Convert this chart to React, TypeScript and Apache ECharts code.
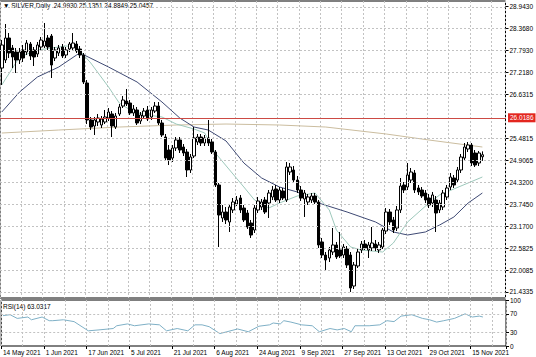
import React, { useEffect, useRef } from "react";
import * as echarts from "echarts";

const BAR_SLOTS = 142;
const DATE_TICKS = [
  "14 May 2021", "1 Jun 2021", "17 Jun 2021", "5 Jul 2021", "21 Jul 2021", "6 Aug 2021",
  "24 Aug 2021", "9 Sep 2021", "27 Sep 2021", "13 Oct 2021", "29 Oct 2021", "15 Nov 2021",
];
const PRICE_TICKS = [28.943, 28.368, 27.793, 27.218, 26.6315, 25.4815, 24.9065, 24.32, 23.745, 23.17, 22.5825, 22.0085, 21.4335];
const RSI_TICKS = [0, 30, 70, 100];
const RSI_LEVELS = [30, 70];
const RED_LEVEL = 26.0186;
const LAST_PRICE = 25.0457;
const HEADER = "\u25BC SILVER,Daily  24.9930 25.1351 24.8849 25.0457";
const RSI_TITLE = "RSI(14) 63.0317";

// [open, close, low, high]
const OHLC = [
  [27.329, 27.935, 26.882, 28.066], [27.540, 28.119, 27.461, 28.487], [28.119, 27.724, 27.592, 28.250],
  [27.856, 27.619, 27.329, 27.935], [27.750, 27.540, 27.198, 27.856], [27.540, 27.750, 27.435, 27.856],
  [27.803, 27.592, 27.487, 27.935], [27.750, 27.987, 27.671, 28.066], [27.961, 27.645, 27.540, 28.014],
  [27.803, 27.619, 27.382, 27.882], [27.698, 27.935, 27.619, 28.014], [27.882, 28.066, 27.803, 28.145],
  [27.908, 28.040, 27.856, 28.514], [28.119, 27.882, 27.803, 28.198], [28.171, 27.408, 27.066, 28.224],
  [27.592, 27.803, 27.513, 27.882], [27.724, 27.856, 27.645, 27.935], [27.882, 27.645, 27.592, 27.961],
  [27.671, 27.803, 27.592, 27.882], [27.829, 27.961, 27.750, 28.014], [27.856, 27.987, 27.803, 28.250],
  [27.961, 27.777, 27.724, 28.040], [27.829, 27.671, 27.592, 27.908], [27.671, 26.961, 26.908, 27.724],
  [26.934, 25.961, 25.855, 27.013], [25.961, 25.776, 25.697, 26.040], [25.803, 25.961, 25.566, 26.040],
  [25.908, 26.013, 25.803, 26.119], [25.829, 25.987, 25.750, 26.066], [25.908, 26.040, 25.855, 26.224],
  [26.013, 26.171, 25.934, 26.276], [26.119, 25.803, 25.513, 26.197], [25.776, 26.066, 25.724, 26.145],
  [26.119, 26.303, 26.066, 26.382], [26.329, 26.487, 26.276, 26.592], [26.461, 26.382, 26.329, 26.777],
  [26.408, 26.145, 26.092, 26.487], [26.145, 26.250, 26.066, 26.355], [26.224, 25.882, 25.829, 26.303],
  [25.934, 26.092, 25.855, 26.171], [26.066, 26.197, 25.987, 26.276], [26.224, 25.987, 25.934, 26.329],
  [26.040, 26.224, 25.961, 26.303], [26.197, 26.329, 26.145, 26.434], [26.329, 25.882, 25.829, 26.434],
  [25.882, 25.566, 25.513, 25.961], [25.513, 24.960, 24.908, 25.592], [25.171, 24.908, 24.776, 25.303],
  [24.960, 25.224, 24.855, 25.303], [25.224, 25.434, 25.145, 25.513], [25.434, 25.171, 25.092, 25.513],
  [25.250, 25.092, 25.013, 25.329], [25.118, 24.645, 24.460, 25.197], [24.645, 24.987, 24.566, 25.066],
  [25.013, 25.487, 24.960, 25.776], [25.382, 25.513, 25.303, 25.592], [25.513, 25.355, 25.276, 25.592],
  [25.355, 25.487, 25.276, 25.566], [25.487, 25.355, 25.276, 25.961], [25.382, 25.118, 25.066, 25.461],
  [25.118, 24.250, 24.197, 25.171], [24.250, 23.460, 22.618, 24.302], [23.381, 23.539, 23.276, 23.723],
  [23.539, 23.329, 23.223, 23.671], [23.276, 23.671, 23.013, 23.750], [23.592, 23.802, 23.513, 23.908],
  [23.750, 23.855, 23.697, 23.960], [23.908, 23.592, 23.513, 23.987], [23.644, 23.329, 23.276, 23.723],
  [23.513, 23.144, 23.092, 23.592], [23.250, 22.934, 22.855, 23.329], [23.065, 23.644, 22.986, 23.723],
  [23.592, 23.829, 23.513, 23.934], [23.671, 23.802, 23.592, 23.881], [23.855, 23.539, 23.487, 23.934],
  [23.776, 24.039, 23.381, 24.118], [23.934, 24.118, 23.855, 24.223], [24.145, 23.855, 23.802, 24.250],
  [23.855, 24.118, 23.776, 24.197], [24.092, 23.908, 23.855, 24.171], [23.855, 24.724, 23.802, 24.855],
  [24.592, 24.724, 24.513, 24.829], [24.645, 24.381, 24.302, 24.750], [24.381, 24.118, 24.039, 24.487],
  [24.118, 23.908, 23.829, 24.223], [23.881, 24.039, 23.408, 24.118], [23.802, 23.934, 23.723, 24.013],
  [23.855, 23.960, 23.776, 24.039], [23.960, 23.802, 23.750, 24.039], [23.802, 22.671, 22.592, 23.855],
  [22.750, 22.407, 22.328, 22.855], [22.407, 22.276, 22.013, 22.486], [22.328, 22.539, 22.223, 22.618],
  [22.486, 22.671, 22.407, 23.118], [22.671, 22.355, 22.302, 22.750], [22.539, 22.381, 22.328, 23.013],
  [22.407, 22.618, 22.328, 22.697], [22.565, 22.144, 22.065, 22.644], [22.407, 21.539, 21.434, 22.486],
  [21.591, 22.144, 21.512, 22.223], [22.118, 22.486, 22.065, 22.565], [22.539, 22.697, 22.460, 22.776],
  [22.697, 22.592, 22.539, 22.802], [22.539, 22.671, 22.328, 22.750], [22.592, 22.723, 22.513, 23.144],
  [22.697, 22.592, 22.513, 22.802], [22.539, 22.671, 22.460, 22.750], [22.618, 23.065, 22.565, 23.118],
  [23.039, 23.539, 22.960, 23.644], [23.539, 23.276, 23.197, 23.618], [23.329, 23.065, 22.986, 23.408],
  [23.118, 23.592, 23.039, 23.697], [23.592, 24.223, 23.513, 24.434], [24.250, 24.118, 24.039, 24.329],
  [24.197, 24.513, 24.118, 24.829], [24.381, 24.592, 24.302, 24.697], [24.566, 24.118, 24.039, 24.645],
  [24.171, 24.066, 23.987, 24.250], [24.118, 23.960, 23.908, 24.197], [24.039, 23.855, 23.776, 24.118],
  [23.908, 23.723, 23.644, 24.013], [23.776, 23.987, 23.671, 24.066], [23.855, 23.513, 23.013, 23.960],
  [23.592, 23.776, 23.513, 23.855], [23.671, 24.039, 23.592, 24.118], [23.934, 24.171, 23.855, 24.250],
  [24.197, 24.460, 24.118, 24.566], [24.434, 24.250, 24.171, 24.513], [24.381, 24.645, 24.302, 24.724],
  [24.645, 24.987, 24.566, 25.066], [24.960, 25.250, 24.908, 25.355], [25.197, 25.303, 25.118, 25.382],
  [25.303, 24.829, 24.750, 25.355], [25.092, 24.776, 24.724, 25.171], [24.829, 25.092, 24.750, 25.145],
  [24.993, 25.0457, 24.8849, 25.1351],
];

// [bar index, value]
const MA_FAST = [
  [0, 26.882], [5, 27.619], [10, 27.803], [18, 27.908], [21, 27.882], [25, 27.461], [30, 26.829],
  [33, 26.408], [37, 26.171], [41, 26.092], [45, 26.040], [49, 25.855], [54, 25.724], [57, 25.619],
  [60, 25.092], [64, 24.645], [68, 24.197], [71, 23.855], [75, 23.644], [78, 23.776], [83, 23.960],
  [88, 24.039], [92, 23.592], [94, 23.065], [98, 22.618], [101, 22.539], [107, 22.486], [110, 22.723],
  [114, 23.276], [120, 23.776], [123, 23.987], [127, 24.145], [135, 24.460],
];
const MA_SLOW = [
  [0, 26.171], [5, 26.698], [10, 27.092], [16, 27.355], [21, 27.671], [22, 27.724], [30, 27.355],
  [38, 26.961], [45, 26.434], [50, 26.013], [54, 25.776], [58, 25.697], [63, 25.408], [68, 24.829],
  [73, 24.434], [78, 24.197], [83, 24.066], [89, 23.776], [97, 23.539], [105, 23.276], [110, 23.013],
  [114, 22.934], [119, 23.013], [123, 23.197], [127, 23.408], [131, 23.776], [135, 24.039],
];
const MA_LONG = [
  [0, 25.618], [16, 25.697], [33, 25.776], [49, 25.829], [63, 25.855], [78, 25.829], [91, 25.776],
  [108, 25.592], [120, 25.434], [135, 25.250],
];
const RSI = [
  [0, 66], [2, 68], [4, 60], [7, 63], [8, 57], [11, 63], [13, 55], [14, 55], [17, 57], [20, 53],
  [24, 33], [27, 35], [31, 38], [32, 44], [35, 48], [37, 44], [41, 48], [44, 46], [46, 33], [49, 38],
  [52, 33], [54, 46], [56, 46], [58, 42], [61, 27], [63, 31], [66, 37], [69, 31], [72, 43], [75, 46],
  [76, 50], [78, 48], [79, 55], [81, 52], [84, 46], [87, 44], [89, 31], [92, 38], [94, 35], [96, 38],
  [98, 31], [99, 44], [103, 44], [106, 46], [108, 55], [110, 53], [112, 65], [115, 68], [118, 60],
  [120, 57], [122, 52], [124, 55], [127, 60], [130, 70], [132, 63], [134, 65], [135, 63.03],
];

const FONT = "'Liberation Sans', Arial, sans-serif";
const FS = 6.5;

export default function App() {
  const ref = useRef<HTMLDivElement>(null);
  useEffect(() => {
    if (!ref.current) return;
    const chart = echarts.init(ref.current, undefined, { renderer: "svg" });
    const cats = Array.from({ length: BAR_SLOTS }, (_, i) => String(i));
    const gridDot = { color: "#c2c2c2", type: [2, 2] as any, width: 1 };
    const markGrid = PRICE_TICKS.map((v) => ({ yAxis: v, lineStyle: gridDot, label: { show: false } }));
    const option: any = {
      animation: false,
      backgroundColor: "#ffffff",
      grid: [
        { left: 0, top: 1, width: 506, height: 297, show: true, borderColor: "#000", borderWidth: 1 },
        { left: 0, top: 300, width: 506, height: 46, show: true, borderColor: "#000", borderWidth: 1 },
      ],
      xAxis: [
        {
          type: "category", gridIndex: 0, data: cats, boundaryGap: true,
          axisLine: { show: false }, axisTick: { show: false }, axisLabel: { show: false },
          splitLine: { show: true, interval: 5, lineStyle: gridDot },
        },
        {
          type: "category", gridIndex: 1, data: cats, boundaryGap: true,
          axisLine: { show: false },
          axisTick: { show: true, interval: 11, length: 3, lineStyle: { color: "#000" } },
          axisLabel: {
            show: true, interval: 11, align: "left", margin: 3, fontSize: FS, fontFamily: FONT, color: "#000",
            formatter: (v: string) => DATE_TICKS[Number(v) / 12] ?? "",
          },
          splitLine: { show: true, interval: 5, lineStyle: gridDot },
        },
      ],
      yAxis: [
        {
          type: "value", gridIndex: 0, position: "right", min: 21.2755, max: 29.093,
          axisLine: { show: false }, splitLine: { show: false },
          axisTick: { show: true, customValues: PRICE_TICKS, length: 3, lineStyle: { color: "#000" } },
          axisLabel: {
            show: true, customValues: PRICE_TICKS, margin: 4, fontSize: FS, fontFamily: FONT, color: "#000",
            formatter: (v: number) => v.toFixed(4),
          },
        },
        {
          type: "value", gridIndex: 1, position: "right", min: 0, max: 100,
          axisLine: { show: false }, splitLine: { show: false },
          axisTick: { show: true, customValues: RSI_TICKS, length: 3, lineStyle: { color: "#000" } },
          axisLabel: {
            show: true, customValues: RSI_TICKS, margin: 4, fontSize: FS, fontFamily: FONT, color: "#000",
            formatter: (v: number) => String(v),
          },
        },
      ],
      series: [
        {
          type: "line", xAxisIndex: 0, yAxisIndex: 0, data: [RED_LEVEL], showSymbol: false,
          lineStyle: { width: 0, opacity: 0 }, itemStyle: { color: "#cc4a44" }, z: 1,
          markLine: {
            silent: true, symbol: ["none", "none"], animation: false,
            lineStyle: { color: "#cc4a44", type: "solid", width: 1, opacity: 1 },
            label: {
              show: true, position: "end", distance: 2, formatter: RED_LEVEL.toFixed(4),
              backgroundColor: "#e3261f", color: "#fff", fontSize: FS, fontFamily: FONT, padding: [1, 2, 1, 2],
            },
            data: [[
              { xAxis: 0, yAxis: RED_LEVEL, x: 0 },
              { yAxis: RED_LEVEL, x: 506 },
            ]],
          },
        },
        {
          type: "line", xAxisIndex: 0, yAxisIndex: 0, data: MA_LONG, showSymbol: false, smooth: false,
          lineStyle: { color: "#cbbd9f", width: 1 }, z: 2,
        },
        {
          type: "line", xAxisIndex: 0, yAxisIndex: 0, data: MA_SLOW, showSymbol: false,
          lineStyle: { color: "#3f4a74", width: 1 }, z: 2,
        },
        {
          type: "line", xAxisIndex: 0, yAxisIndex: 0, data: MA_FAST, showSymbol: false,
          lineStyle: { color: "#9dc8bb", width: 1 }, z: 2,
        },
        {
          type: "candlestick", xAxisIndex: 0, yAxisIndex: 0, data: OHLC, barWidth: 3, z: 3,
          itemStyle: { color: "#ffffff", color0: "#000000", borderColor: "#000000", borderColor0: "#000000", borderWidth: 1 },
          markLine: {
            silent: true, symbol: ["none", "none"], animation: false,
            data: [
              ...markGrid,
              {
                yAxis: LAST_PRICE, lineStyle: { color: "#ffffff", type: "solid", width: 0, opacity: 0 },
                label: {
                  show: true, position: "end", distance: 2, formatter: LAST_PRICE.toFixed(4),
                  backgroundColor: "#000", color: "#fff", fontSize: 6, fontFamily: FONT, padding: [0, 2, 0, 2],
                },
              },
            ],
          },
        },
        {
          type: "line", xAxisIndex: 1, yAxisIndex: 1, data: RSI, showSymbol: false,
          lineStyle: { color: "#7fb0c6", width: 1 }, z: 3,
          markLine: {
            silent: true, symbol: ["none", "none"], animation: false,
            data: RSI_LEVELS.map((v) => ({ yAxis: v, lineStyle: gridDot, label: { show: false } })),
          },
        },
      ],
      graphic: [
        { type: "text", left: 3, top: 2, style: { text: HEADER, fontSize: FS, fontFamily: FONT, fill: "#000" } },
        { type: "text", left: 3, top: 303, style: { text: RSI_TITLE, fontSize: FS, fontFamily: FONT, fill: "#000" } },
      ],
    };
    chart.setOption(option);
    return () => chart.dispose();
  }, []);
  return <div ref={ref} style={{ width: 536, height: 357, position: "absolute", left: 0, top: 0 }} />;
}
